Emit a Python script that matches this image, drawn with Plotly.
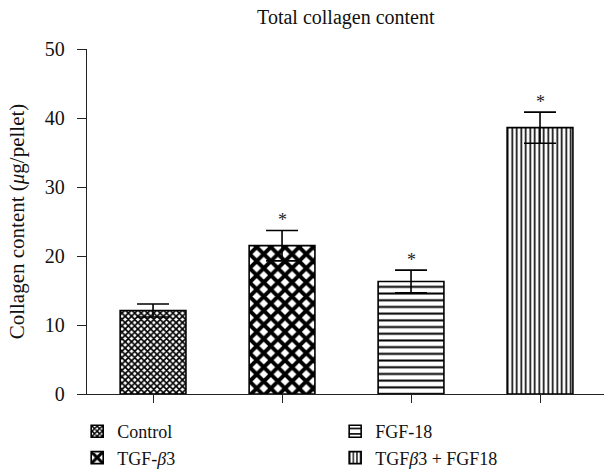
import plotly.graph_objects as go

categories = ["Control", "TGF-<i>β</i>3", "FGF-18", "TGF<i>β</i>3 + FGF18"]
values = [12.1, 21.5, 16.3, 38.6]
errors = [0.95, 2.2, 1.65, 2.25]
significant = [False, True, True, True]
y_ticks = [0, 10, 20, 30, 40, 50]

patterns = [
    dict(shape="x", size=4.5, solidity=0.62, fgcolor="black", bgcolor="white", fgopacity=1),
    dict(shape="x", size=10, solidity=0.62, fgcolor="black", bgcolor="white", fgopacity=1),
    dict(shape="-", size=6.7, solidity=0.3, fgcolor="black", bgcolor="white", fgopacity=1),
    dict(shape="|", size=4.5, solidity=0.36, fgcolor="black", bgcolor="white", fgopacity=1),
]
legend_ids = ["legend", "legend", "legend2", "legend2"]

FONT = "Liberation Serif"
fig = go.Figure()
for i, (c, v, e) in enumerate(zip(categories, values, errors)):
    fig.add_trace(go.Bar(
        x=[i], y=[v], name=c, width=0.51,
        marker=dict(color="white", line=dict(color="black", width=1.6),
                    pattern=patterns[i]),
        error_y=dict(type="data", array=[e], color="black", thickness=1.6, width=16),
        legend=legend_ids[i],
    ))

for i, (v, e, s) in enumerate(zip(values, errors, significant)):
    if s:
        fig.add_annotation(x=i, y=v + e, text="*", showarrow=False,
                           yanchor="bottom", yshift=-2,
                           font=dict(family=FONT, size=18, color="#222"))

legend_common = dict(yanchor="top", orientation="v", font=dict(family=FONT, size=18),
                     tracegroupgap=0, itemwidth=30, bgcolor="rgba(0,0,0,0)")
fig.update_layout(
    width=604, height=470,
    margin=dict(l=87, r=0, t=49, b=76, autoexpand=False),
    plot_bgcolor="white", paper_bgcolor="white",
    font=dict(family=FONT, size=20, color="#111"),
    showlegend=True,
    title=dict(text="Total collagen content", x=0.5725, xanchor="center",
               y=0.963, yanchor="middle", font=dict(family=FONT, size=20, color="#111")),
    legend=dict(x=-0.019, xanchor="left", y=-0.055, **legend_common),
    legend2=dict(x=0.48, xanchor="left", y=-0.055, **legend_common),
)
fig.update_xaxes(range=[-0.512, 3.496], tickvals=list(range(len(categories))),
                 ticktext=[""] * len(categories), ticks="outside", ticklen=8,
                 tickwidth=1.3, tickcolor="#222", showline=True, linecolor="#222",
                 linewidth=1.3, showgrid=False, zeroline=False)
fig.update_yaxes(range=[0, 50], tickvals=y_ticks, ticks="outside", ticklen=9,
                 tickwidth=1.3, tickcolor="#222", showline=True, linecolor="#222",
                 linewidth=1.3, showgrid=False, zeroline=False, ticklabelstandoff=8,
                 title=dict(text="Collagen content (<i>μ</i>g/pellet)", standoff=14,
                            font=dict(family=FONT, size=21)),
                 tickfont=dict(family=FONT, size=20))

fig.write_html("out.html")
